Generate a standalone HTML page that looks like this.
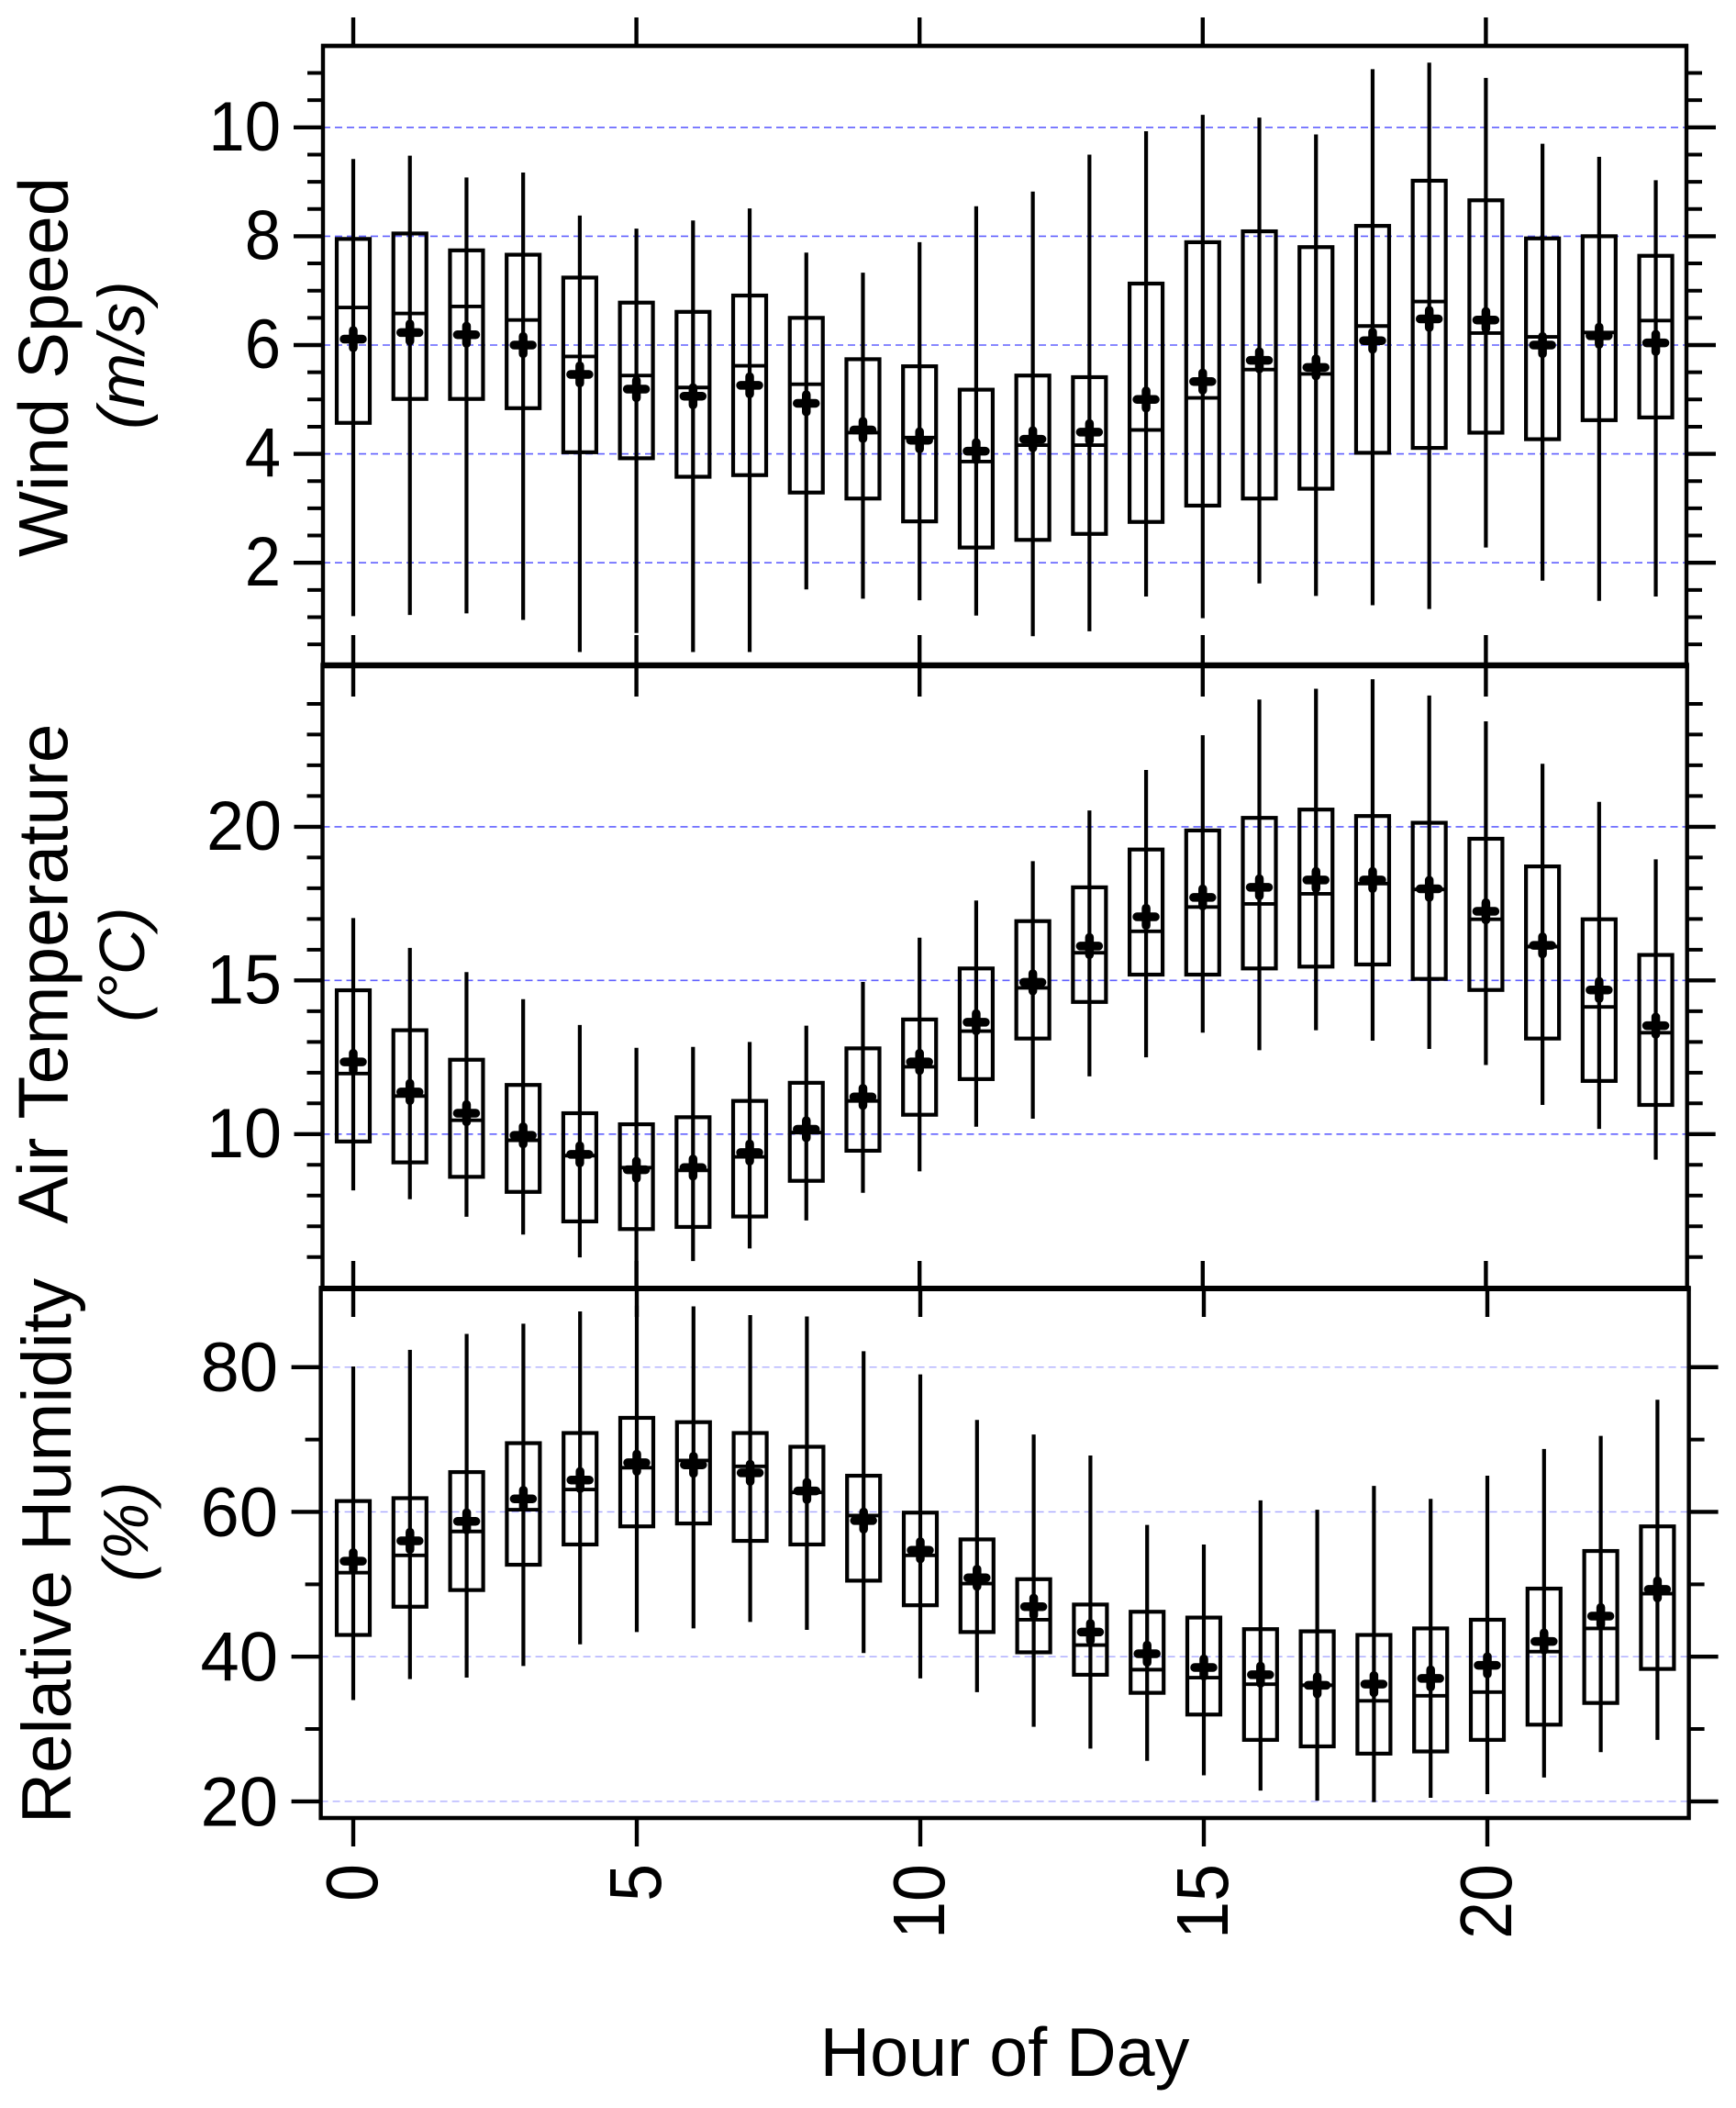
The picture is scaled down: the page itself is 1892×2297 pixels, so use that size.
<!DOCTYPE html>
<html lang="en">
<head>
<meta charset="utf-8">
<title>Diurnal wind speed, air temperature and relative humidity</title>
<style>
html,body{margin:0;padding:0;background:#fff;}
svg{display:block;}
text{font-family:"Liberation Sans",Arial,sans-serif;fill:#000;}
</style>
</head>
<body>
<svg id="chart" xmlns="http://www.w3.org/2000/svg" width="1892" height="2297" viewBox="0 0 1892 2297">
  <rect x="0" y="0" width="1892" height="2297" fill="#fff"/>
  <g id="panels"></g>
  <text transform="translate(73.6,400) rotate(-90)" text-anchor="middle" font-size="76">Wind Speed</text>
  <text transform="translate(157,387) rotate(-90)" text-anchor="middle" font-size="71" font-style="italic">(m/s)</text>
  <text transform="translate(73.6,1061) rotate(-90)" text-anchor="middle" font-size="76.8">Air Temperature</text>
  <text transform="translate(157,1051) rotate(-90)" text-anchor="middle" font-size="70" font-style="italic">(°C)</text>
  <text transform="translate(77,1690) rotate(-90)" text-anchor="middle" font-size="76.4">Relative Humidity</text>
  <text transform="translate(161,1669) rotate(-90)" text-anchor="middle" font-size="70" font-style="italic">(%)</text>
  <text x="1095" y="2262" text-anchor="middle" font-size="75.5">Hour of Day</text>
</svg>
<script>
var hours = [0,1,2,3,4,5,6,7,8,9,10,11,12,13,14,15,16,17,18,19,20,21,22,23];
var xTickHours = [0,5,10,15,20];

var windHi  = [9.42,9.48,9.08,9.17,8.38,8.14,8.29,8.51,7.70,7.33,7.89,8.55,8.82,9.50,9.93,10.23,10.18,9.87,11.07,11.19,10.91,9.70,9.46,9.03];
var windQ3  = [7.95,8.05,7.74,7.66,7.24,6.78,6.61,6.91,6.50,5.74,5.61,5.18,5.44,5.41,7.13,7.89,8.09,7.80,8.19,9.02,8.66,7.96,8.00,7.64];
var windMed = [6.69,6.58,6.71,6.46,5.79,5.44,5.22,5.62,5.28,4.39,4.30,3.86,4.16,4.16,4.44,5.03,5.55,5.47,6.35,6.80,6.22,6.15,6.23,6.45];
var windQ1  = [4.57,5.01,5.01,4.84,4.03,3.92,3.58,3.61,3.29,3.18,2.76,2.28,2.42,2.53,2.75,3.05,3.18,3.36,4.02,4.11,4.39,4.27,4.62,4.67];
var windLo  = [1.02,1.04,1.07,0.95,0.36,0.71,0.36,0.36,1.51,1.34,1.31,1.03,0.65,0.74,1.38,0.98,1.62,1.39,1.22,1.15,2.28,1.67,1.30,1.38];
var windMean= [6.11,6.23,6.19,6.00,5.46,5.19,5.06,5.26,4.93,4.44,4.25,4.05,4.27,4.40,5.00,5.33,5.72,5.59,6.08,6.48,6.46,6.00,6.17,6.04];
var windMajor = [2,4,6,8,10];
var windMinor = [0.5,1,1.5,2.5,3,3.5,4.5,5,5.5,6.5,7,7.5,8.5,9,9.5,10.5,11];

var tempHi  = [17.03,16.06,15.27,14.39,13.55,12.81,12.84,13.00,13.53,14.95,16.39,17.60,18.88,20.53,21.85,22.98,24.14,24.49,24.80,24.27,23.43,22.05,20.81,18.94];
var tempQ3  = [14.68,13.38,12.42,11.60,10.68,10.32,10.55,11.08,11.67,12.79,13.73,15.39,16.93,18.03,19.26,19.88,20.29,20.56,20.35,20.13,19.61,18.71,16.99,15.83];
var tempMed = [11.97,11.24,10.45,9.80,9.30,8.91,8.82,9.26,10.05,11.08,12.19,13.35,14.76,15.90,16.60,17.39,17.49,17.82,18.15,17.96,16.99,16.10,14.14,13.30];
var tempQ1  = [9.76,9.08,8.61,8.12,7.16,6.91,6.98,7.32,8.48,9.46,10.63,11.79,13.11,14.30,15.19,15.19,15.39,15.45,15.52,15.05,14.69,13.11,11.73,10.95];
var tempLo  = [8.17,7.88,7.31,6.73,5.99,5.00,5.87,6.28,7.19,8.09,8.79,10.24,10.50,11.88,12.50,13.30,12.73,13.38,13.04,12.77,12.25,10.95,10.17,9.17];
var tempMean= [12.35,11.37,10.68,9.96,9.34,8.84,8.91,9.40,10.16,11.21,12.35,13.64,14.94,16.12,17.07,17.70,18.03,18.27,18.27,17.98,17.25,16.14,14.69,13.53];
var tempMajor = [10,15,20];
var tempMinor = [6,7,8,9,11,12,13,14,16,17,18,19,21,22,23,24];

var humHi  = [80.1,82.4,84.6,86.0,87.7,88.5,88.4,87.2,87.0,82.2,79.0,72.7,70.7,67.8,58.2,55.5,61.6,60.3,63.6,61.8,65.0,68.7,70.5,75.5];
var humQ3  = [61.5,61.9,65.5,69.5,70.9,73.0,72.4,70.9,69.0,65.0,59.9,56.2,50.7,47.2,46.2,45.4,43.8,43.5,43.0,43.9,45.1,49.4,54.6,58.0];
var humMed = [51.6,54.0,57.3,60.3,63.1,66.1,67.1,66.3,62.7,59.5,54.0,50.1,45.1,41.6,38.2,37.1,36.2,36.05,33.9,34.6,35.1,40.7,43.9,48.7];
var humQ1  = [43.0,46.9,49.2,52.7,55.5,58.0,58.4,56.0,55.5,50.5,47.1,43.4,40.6,37.5,35.0,32.0,28.5,27.6,26.6,26.9,28.5,30.6,33.6,38.3];
var humLo  = [34.0,36.9,37.1,38.7,41.7,43.4,43.9,44.8,43.7,40.5,37.0,35.1,30.3,27.3,25.6,23.6,21.5,20.1,19.9,20.5,21.0,23.3,26.8,28.5];
var humMean= [53.2,56.0,58.7,61.8,64.4,66.8,66.5,65.4,62.9,58.8,54.7,50.9,46.9,43.4,40.4,38.5,37.5,36.05,36.2,37.0,38.8,42.1,45.6,49.3];
var humMajor = [20,40,60,80];
var humMinor = [30,50,70];

var NS = 'http://www.w3.org/2000/svg';
var root = document.getElementById('panels');

function make(parent, tag, attrs) {
  var el = document.createElementNS(NS, tag);
  for (var k in attrs) { el.setAttribute(k, attrs[k]); }
  parent.appendChild(el);
  return el;
}

function line(parent, x1, y1, x2, y2, w, color) {
  return make(parent, 'line', {x1:x1, y1:y1, x2:x2, y2:y2, stroke:color || '#000', 'stroke-width':w});
}

function drawPanel(name, p, hi, q3, med, q1, lo, mean, major, minor) {
  function xAxis(h) { return p.x0 + h * p.xStep; }
  function yAxis(v) { return p.yRef - (v - p.vRef) * p.yUnit; }

  var g = make(root, 'g', {});
  
  

  major.forEach(function (v) {
    var gl = line(g, p.left, yAxis(v), p.right, yAxis(v), p.gridW, p.gridColor);
    gl.setAttribute('stroke-dasharray', '8 5');
    
    
  });

  var frame = make(g, 'path', {
    d: 'M' + p.left + ' ' + p.top + 'H' + p.right + 'V' + p.bottom + 'H' + p.left + 'Z',
    fill: 'none', stroke: '#000', 'stroke-width': 4.4
  });
  
  

  var topEdge = line(g, p.left - 2, p.top, p.right + 2, p.top, p.topW, '#000');
  
  

  major.forEach(function (v) {
    var y = yAxis(v);
    var tl = line(g, p.left - p.majorLen, y, p.left, y, 4.4);
    
    
    var tr = line(g, p.right, y, p.right + p.majorLen, y, 4.4);
    
    
    var lab = make(g, 'text', {
      transform: 'translate(' + p.labelX + ',' + (y + p.labelDy) + ') scale(' + p.labelSx + ',1)',
      'text-anchor': 'end', 'font-size': 76
    });
    lab.textContent = String(v);
    
    
  });

  minor.forEach(function (v) {
    var y = yAxis(v);
    var ml = line(g, p.left - p.minorLen, y, p.left, y, 4);
    
    
    var mr = line(g, p.right, y, p.right + p.minorLen, y, 4);
    
    
  });

  xTickHours.forEach(function (h) {
    var x = xAxis(h);
    var tt = line(g, x, p.top - p.xTickOut, x, p.top + p.xTickIn, 4.4);
    
    
    var tb = line(g, x, p.bottom - p.xTickInB, x, p.bottom + p.xTickOutB, 4.4);
    
    
    if (p.showX) {
      var xl = make(g, 'text', {
        transform: 'translate(' + (x + 26) + ',2031) rotate(-90) scale(0.92,1)',
        'text-anchor': 'end', 'font-size': 80
      });
      xl.textContent = String(h);
      
      
    }
  });

  hours.forEach(function (h, i) {
    var x = xAxis(h);
    var bg = make(g, 'g', {});
    
    

    var wh = line(bg, x, yAxis(hi[i]), x, yAxis(lo[i]), 4.2);
    
    

    var box = make(bg, 'rect', {
      x: x - 18, y: yAxis(q3[i]), width: 36, height: yAxis(q1[i]) - yAxis(q3[i]),
      fill: 'none', stroke: '#000', 'stroke-width': 4.2
    });
    
    

    var md = line(bg, x - 18, yAxis(med[i]), x + 18, yAxis(med[i]), 3.9);
    
    

    var yM = yAxis(mean[i]);
    var mk = make(bg, 'path', {
      d: 'M' + (x - 10) + ' ' + yM + 'H' + (x + 10) + 'M' + x + ' ' + (yM - 9.5) + 'V' + (yM + 9.5),
      fill: 'none', stroke: '#000', 'stroke-width': 9.5, 'stroke-linecap': 'round'
    });
    
    
  });
}

drawPanel('wind-speed', {
  left:352, right:1838, top:50, bottom:725, topW:4.4,
  x0:385, xStep:61.72, yRef:613.2, vRef:2, yUnit:59.3,
  majorLen:32, minorLen:17, labelX:306, labelDy:25, labelSx:0.93,
  gridW:1.6, gridColor:'#6060ff',
  xTickOut:31, xTickIn:0, xTickInB:33, xTickOutB:0, showX:false
}, windHi, windQ3, windMed, windQ1, windLo, windMean, windMajor, windMinor);

drawPanel('air-temperature', {
  left:351.5, right:1838.7, top:725, bottom:1404, topW:6.5,
  x0:385, xStep:61.72, yRef:1235.8, vRef:10, yUnit:33.49,
  majorLen:31, minorLen:17, labelX:307, labelDy:25, labelSx:0.97,
  gridW:1.6, gridColor:'#6060ff',
  xTickOut:0, xTickIn:34, xTickInB:30, xTickOutB:0, showX:false
}, tempHi, tempQ3, tempMed, tempQ1, tempLo, tempMean, tempMajor, tempMinor);

drawPanel('relative-humidity', {
  left:349.6, right:1840.6, top:1404, bottom:1981, topW:6,
  x0:385, xStep:61.8, yRef:1962.9, vRef:20, yUnit:7.886,
  majorLen:32, minorLen:17, labelX:303, labelDy:26.5, labelSx:1.0,
  gridW:1.3, gridColor:'#a8a8ff',
  xTickOut:0, xTickIn:31, xTickInB:0, xTickOutB:31, showX:true
}, humHi, humQ3, humMed, humQ1, humLo, humMean, humMajor, humMinor);
</script>
</body>
</html>
